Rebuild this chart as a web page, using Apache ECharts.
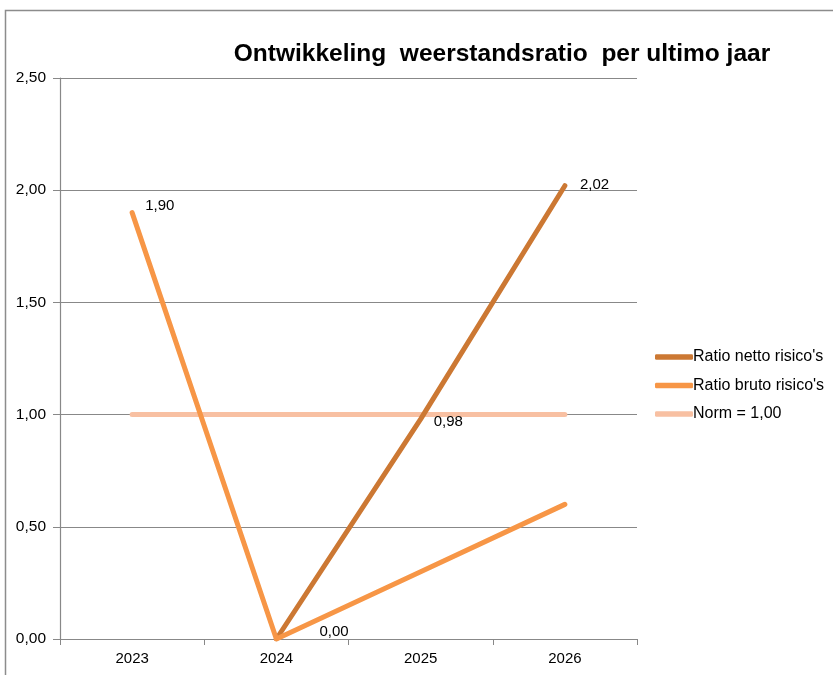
<!DOCTYPE html>
<html><head><meta charset="utf-8">
<script src="https://cdn.jsdelivr.net/npm/echarts@6/dist/echarts.min.js"></script>
<style>html,body{margin:0;padding:0;background:#fff}#c{width:833px;height:675px}</style>
</head><body><div id="c"></div>
<script>
var categories = ['2023', '2024', '2025', '2026'];
var nettoValues = [null, 0, 0.98, 2.02];
var brutoValues = [1.90, 0, 0.30, 0.60];
var normValues = [1.00, 1.00, 1.00, 1.00];

function fmt(v){ return Number(v).toFixed(2).replace('.', ','); }

var chart = echarts.init(document.getElementById('c'));
var font = 'Liberation Sans, Arial, sans-serif';

function lbl(show, dx, dy){
  return {show: show, position: 'right', distance: 5, offset: [dx||0, dy||0], color: '#000', fontSize: 15, fontFamily: font,
    formatter: function(p){ return fmt(p.value); }};
}

chart.setOption({
  animation: false,
  title: {text: 'Ontwikkeling  weerstandsratio  per ultimo jaar', left: 497, top: 37, textAlign: 'center',
    textStyle: {fontFamily: font, fontSize: 24.5, fontWeight: 'bold', color: '#000'}},
  graphic: [{type: 'rect', shape: {x: 5.5, y: 10.5, width: 840, height: 700},
    style: {fill: 'none', stroke: '#8c8c8c', lineWidth: 1.5}, silent: true}],
  legend: {orient: 'vertical', left: 650, top: 344, itemGap: 12.5, itemWidth: 38, itemHeight: 5.5,
    icon: 'roundRect',
    textStyle: {fontFamily: font, fontSize: 16, color: '#000', padding: [0,0,0,-5]},
    data: ["Ratio netto risico's", "Ratio bruto risico's", 'Norm = 1,00']},
  grid: {left: 60, right: 196, top: 78, bottom: 36, containLabel: false},
  xAxis: {type: 'category', data: categories, boundaryGap: true,
    axisLine: {lineStyle: {color: '#888', width: 1.2}},
    axisTick: {show: true, length: 6, lineStyle: {color: '#888'}},
    axisLabel: {color: '#000', fontSize: 15, fontFamily: font, margin: 12}},
  yAxis: {type: 'value', min: 0, max: 2.5, interval: 0.5,
    axisLine: {show: true, lineStyle: {color: '#888', width: 1.2}},
    axisTick: {show: true, length: 7, lineStyle: {color: '#888'}},
    splitLine: {lineStyle: {color: '#888', width: 1.2}},
    axisLabel: {color: '#000', fontSize: 15.5, fontFamily: font, margin: 14, formatter: fmt}},
  series: [
    {name: "Ratio netto risico's", type: 'line', data: nettoValues.map(function(v, i){
        return {value: v, label: lbl(i === 2 || i === 3, i === 2 ? 8 : 10, i === 2 ? 3 : -1)};
      }), symbol: 'circle', symbolSize: 0.01, showSymbol: true, z: 3,
      lineStyle: {color: '#cc7833', width: 5, cap: 'round', join: 'round'}, itemStyle: {color: '#cc7833'}},
    {name: "Ratio bruto risico's", type: 'line', data: brutoValues.map(function(v, i){
        return {value: v, label: lbl(i === 0 || i === 1, i === 1 ? 38 : 8, -7)};
      }), symbol: 'circle', symbolSize: 0.01, showSymbol: true, z: 4,
      lineStyle: {color: '#f79646', width: 5, cap: 'round', join: 'round'}, itemStyle: {color: '#f79646'}},
    {name: 'Norm = 1,00', type: 'line', data: normValues, symbol: 'none', z: 2,
      lineStyle: {color: '#f8c0a2', width: 5, cap: 'round'}, itemStyle: {color: '#f8c0a2'}}
  ]
});
</script></body></html>
